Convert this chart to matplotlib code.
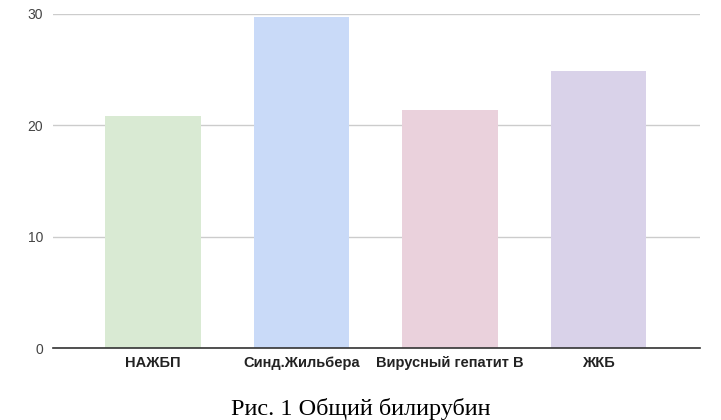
import matplotlib
matplotlib.use("Agg")
import matplotlib.pyplot as plt
import numpy as np

# ── data ────────────────────────────────────────────────────────────────────
categories = ["НАЖБП", "Синд.Жильбера", "Вирусный гепатит В", "ЖКБ"]
values     = [20.8, 29.7, 21.4, 24.9]
bar_colors = ["#d9ead3", "#c9daf8", "#ead1dc", "#d9d2e9"]
y_ticks    = [0, 10, 20, 30]
caption    = "Рис. 1 Общий билирубин"

fig = plt.figure(figsize=(7.21, 4.20), dpi=100)
ax = fig.add_axes([0.0735, 0.1714, 0.8975, 0.7953])

x = np.arange(len(categories))
ax.bar(x, values, width=0.645, color=bar_colors, zorder=3)

ax.set_xlim(-0.675, len(categories) - 0.315)
ax.set_ylim(0, 30)
ax.set_yticks(y_ticks)
ax.set_yticklabels([str(t) for t in y_ticks], fontsize=10,
                   family="Liberation Sans", color="#444444")
ax.set_xticks(x)
ax.set_xticklabels(categories, fontsize=10.5, fontweight="bold",
                   family="Liberation Sans", color="#222222")

ax.grid(axis="y", color="#cccccc", linewidth=1, zorder=0)
ax.tick_params(axis="both", length=0)
ax.tick_params(axis="y", pad=7)
ax.tick_params(axis="x", pad=6)
for s in ["top", "right", "left"]:
    ax.spines[s].set_visible(False)
ax.spines["bottom"].set_color("#333333")
ax.spines["bottom"].set_linewidth(1.2)
ax.spines["bottom"].set_zorder(4)

fig.text(0.5, 0.013, caption, ha="center", va="baseline",
         fontsize=17.5, family="Liberation Serif", color="black")

fig.savefig("out.png", dpi=100)
